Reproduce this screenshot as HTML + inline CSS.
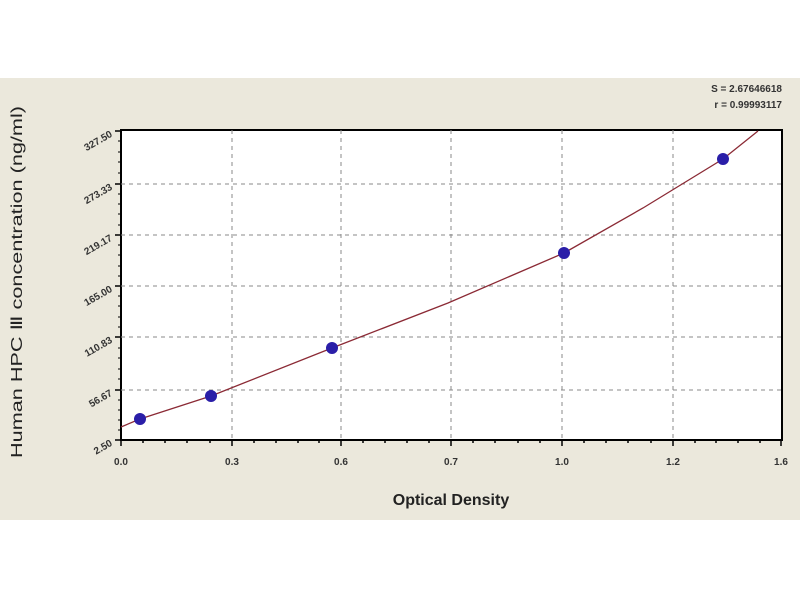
<!DOCTYPE html>
<html><head><style>body{margin:0;background:#fff}svg{display:block}</style></head>
<body>
<svg width="800" height="600" xmlns="http://www.w3.org/2000/svg" font-family="Liberation Sans, sans-serif">
<rect x="0" y="0" width="800" height="600" fill="#fff"/>
<rect x="0" y="78" width="800" height="442" fill="#ebe8dc"/>
<rect x="121" y="130" width="661" height="310" fill="#fff" stroke="#000" stroke-width="2"/>
<g stroke="#888" stroke-width="1" stroke-dasharray="4,4">
<line x1="121" y1="184" x2="782" y2="184"/><line x1="121" y1="235" x2="782" y2="235"/>
<line x1="121" y1="286" x2="782" y2="286"/><line x1="121" y1="337" x2="782" y2="337"/>
<line x1="121" y1="390" x2="782" y2="390"/>
<line x1="232" y1="130" x2="232" y2="440"/><line x1="341" y1="130" x2="341" y2="440"/>
<line x1="451" y1="130" x2="451" y2="440"/><line x1="562" y1="130" x2="562" y2="440"/>
<line x1="673" y1="130" x2="673" y2="440"/>
</g>
<g stroke="#000" stroke-width="1.5">
<line x1="121" y1="440" x2="121" y2="446"/><line x1="232" y1="440" x2="232" y2="446"/><line x1="341" y1="440" x2="341" y2="446"/><line x1="451" y1="440" x2="451" y2="446"/><line x1="562" y1="440" x2="562" y2="446"/><line x1="673" y1="440" x2="673" y2="446"/><line x1="781" y1="440" x2="781" y2="446"/>
<line x1="143" y1="440" x2="143" y2="443"/><line x1="165" y1="440" x2="165" y2="443"/><line x1="187" y1="440" x2="187" y2="443"/><line x1="210" y1="440" x2="210" y2="443"/>
<line x1="254" y1="440" x2="254" y2="443"/><line x1="276" y1="440" x2="276" y2="443"/><line x1="298" y1="440" x2="298" y2="443"/><line x1="319" y1="440" x2="319" y2="443"/>
<line x1="363" y1="440" x2="363" y2="443"/><line x1="385" y1="440" x2="385" y2="443"/><line x1="407" y1="440" x2="407" y2="443"/><line x1="429" y1="440" x2="429" y2="443"/>
<line x1="473" y1="440" x2="473" y2="443"/><line x1="495" y1="440" x2="495" y2="443"/><line x1="518" y1="440" x2="518" y2="443"/><line x1="540" y1="440" x2="540" y2="443"/>
<line x1="584" y1="440" x2="584" y2="443"/><line x1="606" y1="440" x2="606" y2="443"/><line x1="628" y1="440" x2="628" y2="443"/><line x1="651" y1="440" x2="651" y2="443"/>
<line x1="695" y1="440" x2="695" y2="443"/><line x1="716" y1="440" x2="716" y2="443"/><line x1="738" y1="440" x2="738" y2="443"/><line x1="760" y1="440" x2="760" y2="443"/>
<line x1="115" y1="131" x2="121" y2="131"/><line x1="115" y1="184" x2="121" y2="184"/><line x1="115" y1="235" x2="121" y2="235"/><line x1="115" y1="286" x2="121" y2="286"/><line x1="115" y1="337" x2="121" y2="337"/><line x1="115" y1="390" x2="121" y2="390"/><line x1="115" y1="440" x2="121" y2="440"/>
</g>
<g stroke="#000" stroke-width="1">
<line x1="118" y1="141" x2="121" y2="141"/><line x1="118" y1="152" x2="121" y2="152"/><line x1="118" y1="162" x2="121" y2="162"/><line x1="118" y1="173" x2="121" y2="173"/>
<line x1="118" y1="194" x2="121" y2="194"/><line x1="118" y1="204" x2="121" y2="204"/><line x1="118" y1="214" x2="121" y2="214"/><line x1="118" y1="225" x2="121" y2="225"/>
<line x1="118" y1="245" x2="121" y2="245"/><line x1="118" y1="255" x2="121" y2="255"/><line x1="118" y1="266" x2="121" y2="266"/><line x1="118" y1="276" x2="121" y2="276"/>
<line x1="118" y1="296" x2="121" y2="296"/><line x1="118" y1="306" x2="121" y2="306"/><line x1="118" y1="317" x2="121" y2="317"/><line x1="118" y1="327" x2="121" y2="327"/>
<line x1="118" y1="348" x2="121" y2="348"/><line x1="118" y1="358" x2="121" y2="358"/><line x1="118" y1="369" x2="121" y2="369"/><line x1="118" y1="379" x2="121" y2="379"/>
<line x1="118" y1="400" x2="121" y2="400"/><line x1="118" y1="410" x2="121" y2="410"/><line x1="118" y1="420" x2="121" y2="420"/><line x1="118" y1="430" x2="121" y2="430"/>
</g>
<polyline fill="none" stroke="#8b2a35" stroke-width="1.3" points="121,427 140,419 211,396 332,348 448,303 564,253 643,208 723,159 758,131"/>
<g fill="#2a1ea8">
<circle cx="140" cy="419" r="6"/><circle cx="211" cy="396" r="6"/><circle cx="332" cy="348" r="6"/><circle cx="564" cy="253" r="6"/><circle cx="723" cy="159" r="6"/>
</g>
<g font-size="10" font-weight="bold" fill="#333" text-anchor="middle">
<text x="121" y="465">0.0</text><text x="232" y="465">0.3</text><text x="341" y="465">0.6</text><text x="451" y="465">0.7</text><text x="562" y="465">1.0</text><text x="673" y="465">1.2</text><text x="781" y="465">1.6</text>
</g>
<g font-size="10" font-weight="bold" fill="#333" text-anchor="end">
<text transform="translate(113,136) rotate(-30)">327.50</text>
<text transform="translate(113,189) rotate(-30)">273.33</text>
<text transform="translate(113,240) rotate(-30)">219.17</text>
<text transform="translate(113,291) rotate(-30)">165.00</text>
<text transform="translate(113,342) rotate(-30)">110.83</text>
<text transform="translate(113,395) rotate(-30)">56.67</text>
<text transform="translate(113,445) rotate(-30)">2.50</text>
</g>
<text x="451" y="505" font-size="16" font-weight="bold" fill="#222" text-anchor="middle">Optical Density</text>
<text transform="translate(22,282) rotate(-90)" font-size="16" fill="#222" text-anchor="middle" textLength="352" lengthAdjust="spacingAndGlyphs">Human HPC Ⅲ concentration (ng/ml)</text>
<g font-size="10" font-weight="bold" fill="#333" text-anchor="end">
<text x="782" y="92">S = 2.67646618</text>
<text x="782" y="108">r = 0.99993117</text>
</g>
</svg>
</body></html>
